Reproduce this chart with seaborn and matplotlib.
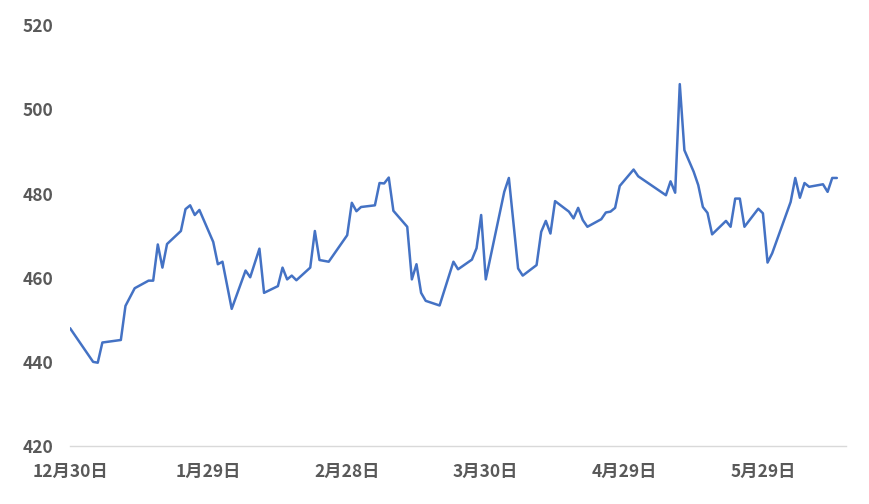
import matplotlib
matplotlib.use('Agg')
import matplotlib.pyplot as plt
import pandas as pd
import seaborn as sns

# values (vertices of the line)
dates = [
    '2022-12-30', '2023-01-04', '2023-01-05', '2023-01-06', '2023-01-10',
    '2023-01-11', '2023-01-13', '2023-01-16', '2023-01-17', '2023-01-18',
    '2023-01-19', '2023-01-20', '2023-01-23', '2023-01-24', '2023-01-25',
    '2023-01-26', '2023-01-27', '2023-01-30', '2023-01-31', '2023-02-01',
    '2023-02-03', '2023-02-06', '2023-02-07', '2023-02-09', '2023-02-10',
    '2023-02-13', '2023-02-14', '2023-02-15', '2023-02-16', '2023-02-17',
    '2023-02-20', '2023-02-21', '2023-02-22', '2023-02-24', '2023-02-28',
    '2023-03-01', '2023-03-02', '2023-03-03', '2023-03-06', '2023-03-07',
    '2023-03-08', '2023-03-09', '2023-03-10', '2023-03-13', '2023-03-14',
    '2023-03-15', '2023-03-16', '2023-03-17', '2023-03-20', '2023-03-23',
    '2023-03-24', '2023-03-27', '2023-03-28', '2023-03-29', '2023-03-30',
    '2023-04-03', '2023-04-04', '2023-04-06', '2023-04-07', '2023-04-10',
    '2023-04-11', '2023-04-12', '2023-04-13', '2023-04-14', '2023-04-17',
    '2023-04-18', '2023-04-19', '2023-04-20', '2023-04-21', '2023-04-24',
    '2023-04-25', '2023-04-26', '2023-04-27', '2023-04-28', '2023-05-01',
    '2023-05-02', '2023-05-08', '2023-05-09', '2023-05-10', '2023-05-11',
    '2023-05-12', '2023-05-14', '2023-05-15', '2023-05-16', '2023-05-17',
    '2023-05-18', '2023-05-21', '2023-05-22', '2023-05-23', '2023-05-24',
    '2023-05-25', '2023-05-28', '2023-05-29', '2023-05-30', '2023-05-31',
    '2023-06-04', '2023-06-05', '2023-06-06', '2023-06-07', '2023-06-08',
    '2023-06-11', '2023-06-12', '2023-06-13', '2023-06-14',
]
values = [
    448.0, 440.0, 439.8, 444.6, 445.2,
    453.3, 457.5, 459.3, 459.3, 467.9,
    462.4, 468.0, 471.1, 476.3, 477.2,
    474.9, 476.1, 468.5, 463.2, 463.8,
    452.6, 461.7, 460.1, 466.9, 456.4,
    458.0, 462.4, 459.6, 460.5, 459.4,
    462.4, 471.1, 464.2, 463.8, 470.1,
    477.8, 475.8, 476.8, 477.2, 482.5,
    482.4, 483.8, 475.9, 472.1, 459.6,
    463.2, 456.4, 454.5, 453.4, 463.8,
    462.0, 464.3, 467.0, 474.9, 459.6,
    480.4, 483.7, 462.2, 460.5, 463.0,
    470.9, 473.5, 470.5, 478.2, 475.7,
    474.1, 476.6, 473.7, 472.1, 473.9,
    475.5, 475.7, 476.6, 481.8, 485.7,
    484.1, 479.6, 482.9, 480.2, 506.0,
    490.3, 485.2, 482.0, 476.8, 475.4,
    470.3, 473.5, 472.1, 478.8, 478.8,
    472.1, 476.4, 475.3, 463.6, 465.8,
    478.0, 483.7, 479.0, 482.5, 481.6,
    482.2, 480.4, 483.7, 483.7,
]

tick_dates = ['2022-12-30', '2023-01-29', '2023-02-28', '2023-03-30', '2023-04-29', '2023-05-29']
tick_labels = ['12月30日', '1月29日', '2月28日', '3月30日', '4月29日', '5月29日']
y_ticks = [420, 440, 460, 480, 500, 520]

df = pd.DataFrame({'date': pd.to_datetime(dates), 'value': values})

sns.set_theme(style='white')
plt.rcParams['font.family'] = ['Noto Sans CJK JP', 'DejaVu Sans']

fig = plt.figure(figsize=(8.7, 5.04), dpi=100)
ax = fig.add_axes([0.0805, 0.115, 0.892, 0.835])

sns.lineplot(data=df, x='date', y='value', color='#4472C4', linewidth=1.8, ax=ax)

ax.set_ylim(420, 520)
ax.set_yticks(y_ticks)
start = pd.Timestamp(tick_dates[0])
ax.set_xlim(start, start + pd.Timedelta(days=168))
ax.set_xticks(pd.to_datetime(tick_dates))
ax.set_xticklabels(tick_labels)
ax.set_xlabel('')
ax.set_ylabel('')

for side in ['top', 'right', 'left']:
    ax.spines[side].set_visible(False)
ax.spines['bottom'].set_color('#D9D9D9')
ax.spines['bottom'].set_linewidth(1)

ax.tick_params(axis='x', colors='#D9D9D9', length=5, width=1, pad=7,
               labelcolor='#595959', labelsize=12.5)
ax.tick_params(axis='y', length=0, pad=12, labelcolor='#595959', labelsize=12.5)
for lab in ax.get_xticklabels() + ax.get_yticklabels():
    lab.set_fontweight('bold')

fig.savefig('out.png', dpi=100)
